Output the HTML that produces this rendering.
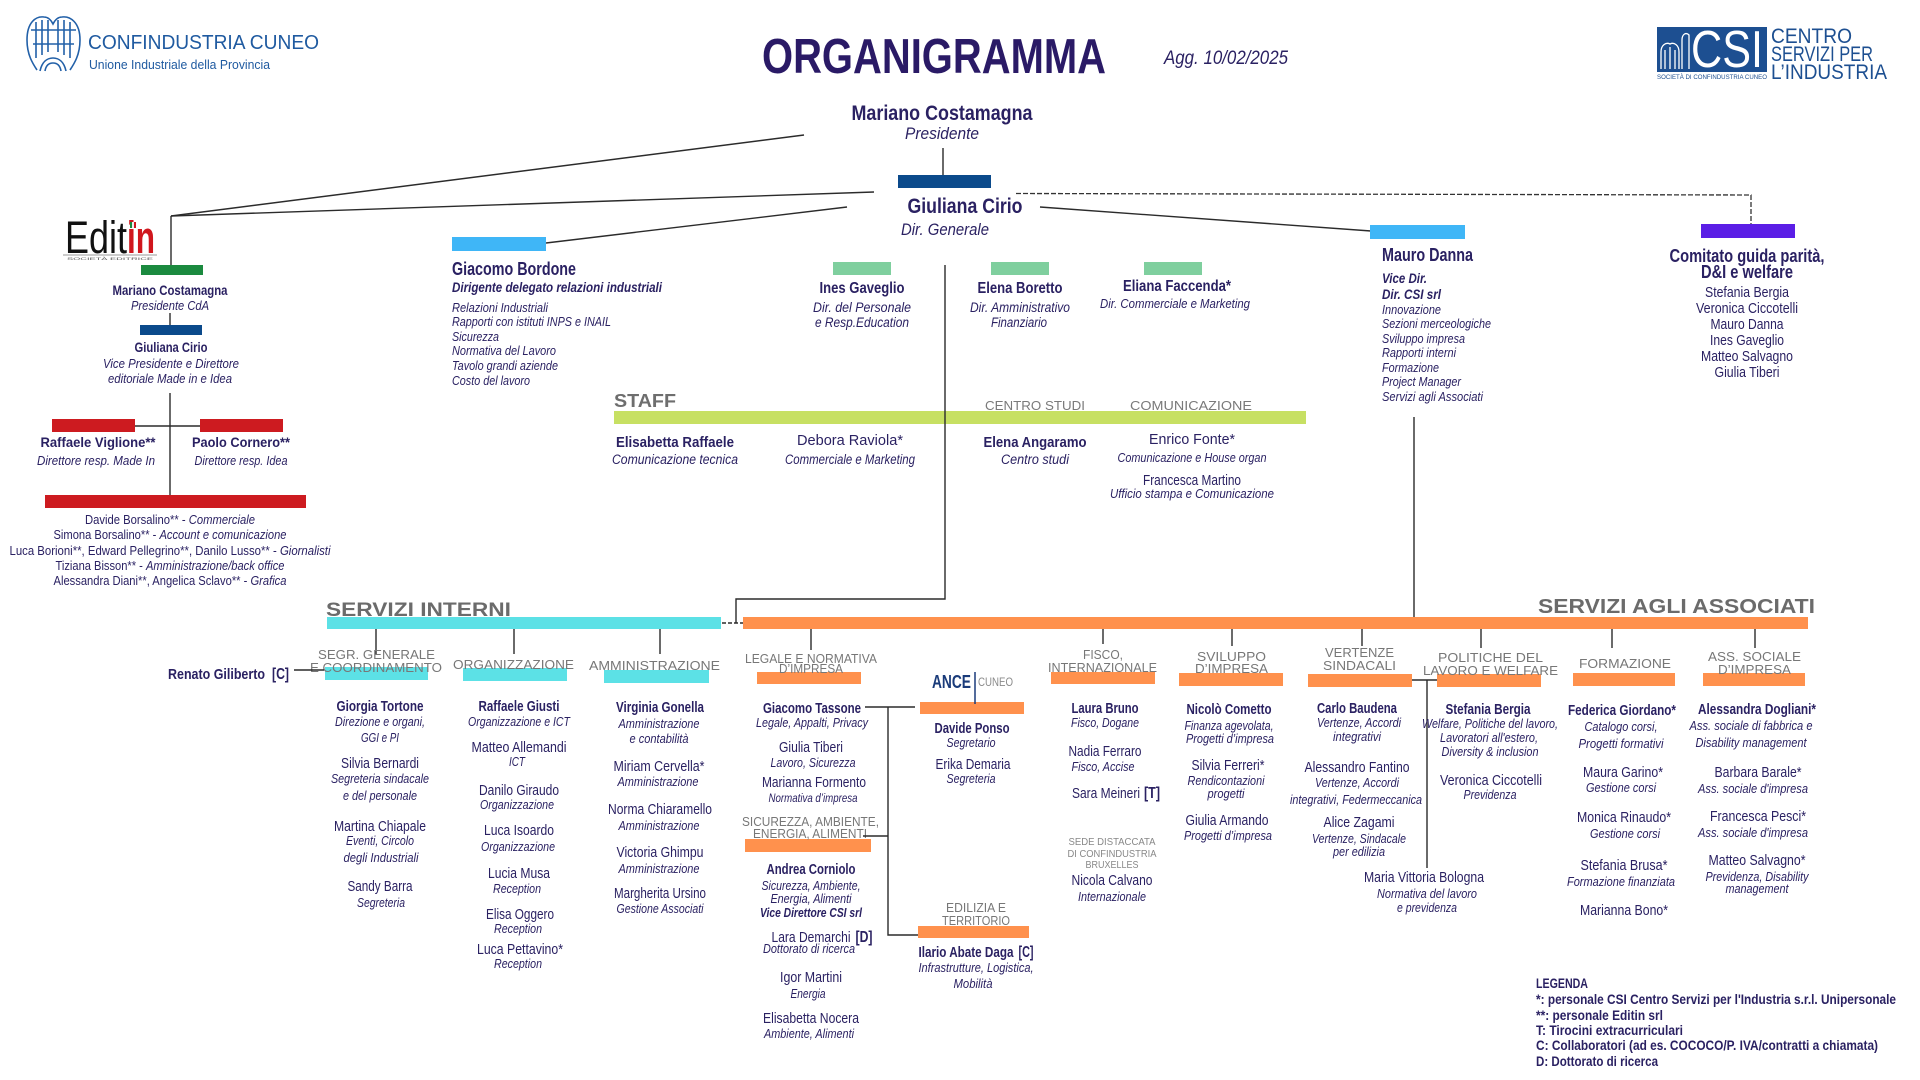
<!DOCTYPE html>
<html><head><meta charset="utf-8">
<style>
html,body{margin:0;padding:0;background:#fff;}
svg{display:block;}
text{font-family:"Liberation Sans Narrow","Liberation Sans",sans-serif;fill:#2a2162;}
.b{font-weight:bold;}
.i{font-style:italic;}
.c{text-anchor:middle;}
.i13{font-size:13px;font-style:italic;}
.ln{stroke:#2b2b2b;stroke-width:1.4;fill:none;}
</style></head>
<body>
<svg width="1920" height="1080" viewBox="0 0 1920 1080" xmlns="http://www.w3.org/2000/svg">
<rect width="1920" height="1080" fill="#fff"/>

<!-- ===== HEADER ===== -->
<g stroke="#2260a8" stroke-width="1.6" fill="none">
  <path d="M27 40 C27 22 36 16 44 17 C48 17 51 20 53 24 C55 20 58 17 62 17 C70 16 80 22 80 40 C80 55 74 64 70 70"/>
  <path d="M27 40 C27 55 33 64 37 70"/>
  <path d="M36 22 L36 58 M42 20 L42 55 M48 20 L48 52 M58 20 L58 52 M64 20 L64 55 M70 22 L70 58"/>
  <path d="M40 71 C42 62 47 58 53 58 C59 58 64 62 66 71"/>
  <path d="M45 71 C46 65 49 63 53 63 C57 63 60 65 61 71"/>
  <path d="M31 30 L76 30 M33 44 L74 44"/>
</g>
<text x="88" y="49" font-size="20" textLength="231" lengthAdjust="spacingAndGlyphs" style="fill:#1f5aa0;font-family:'Liberation Sans',sans-serif">CONFINDUSTRIA CUNEO</text>
<text x="89" y="69" font-size="13" textLength="181" lengthAdjust="spacingAndGlyphs" style="fill:#1f5aa0;font-family:'Liberation Sans',sans-serif">Unione Industriale della Provincia</text>

<text x="762" y="73" class="b" font-size="49" textLength="344" lengthAdjust="spacingAndGlyphs" style="fill:#2a1a66">ORGANIGRAMMA</text>
<text x="1164" y="64" class="i" font-size="19" textLength="124" lengthAdjust="spacingAndGlyphs">Agg. 10/02/2025</text>

<rect x="1657" y="27" width="110" height="45" fill="#1d4f91"/>
<g stroke="#fff" stroke-width="1.3" fill="none">
  <path d="M1661 69 L1661 52 C1661 45 1666 42 1670 44 C1674 42 1679 45 1679 52 L1679 69"/>
  <path d="M1665 69 L1665 50 M1670 69 L1670 47 M1675 69 L1675 50"/>
  <path d="M1682 69 L1682 40 C1682 34 1686 32 1689 35 L1689 69"/>
</g>
<text x="1691" y="67" font-size="52" textLength="72" lengthAdjust="spacingAndGlyphs" style="fill:#fff;font-family:'Liberation Sans',sans-serif">CSI</text>
<text x="1657" y="79" font-size="6" textLength="110" lengthAdjust="spacingAndGlyphs" style="fill:#1d4f91;font-family:'Liberation Sans',sans-serif">SOCIETÀ DI CONFINDUSTRIA CUNEO</text>
<text x="1771" y="43" font-size="21" textLength="81" lengthAdjust="spacingAndGlyphs" style="fill:#1d4f91;font-family:'Liberation Sans',sans-serif">CENTRO</text>
<text x="1771" y="61" font-size="21" textLength="102" lengthAdjust="spacingAndGlyphs" style="fill:#1d4f91;font-family:'Liberation Sans',sans-serif">SERVIZI PER</text>
<text x="1771" y="79" font-size="21" textLength="116" lengthAdjust="spacingAndGlyphs" style="fill:#1d4f91;font-family:'Liberation Sans',sans-serif">L’INDUSTRIA</text>

<!-- ===== TOP CONNECTORS ===== -->
<line class="ln" x1="171" y1="216" x2="804" y2="135"/>
<line class="ln" x1="171" y1="216" x2="874" y2="192"/>
<line class="ln" x1="171" y1="216" x2="171" y2="266"/>
<line class="ln" x1="546" y1="243" x2="847" y2="207"/>
<line class="ln" x1="1040" y1="207" x2="1371" y2="231"/>
<line class="ln" x1="943" y1="148" x2="943" y2="176"/>
<path d="M1016 193.5 L1751 195 L1751 224" stroke="#333" stroke-width="1.3" fill="none" stroke-dasharray="5 2"/>

<text x="942" y="120" class="b c" font-size="21" textLength="181" lengthAdjust="spacingAndGlyphs">Mariano Costamagna</text>
<text x="942" y="139" class="i c" font-size="17" textLength="74" lengthAdjust="spacingAndGlyphs">Presidente</text>
<rect x="898" y="175" width="93" height="13" fill="#0b4a8b"/>
<text x="965" y="213" class="b c" font-size="21" textLength="115" lengthAdjust="spacingAndGlyphs">Giuliana Cirio</text>
<text x="945" y="235" class="i c" font-size="17" textLength="88" lengthAdjust="spacingAndGlyphs">Dir. Generale</text>

<!-- ===== EDITIN ===== -->
<text x="65" y="253" font-size="45" textLength="62" lengthAdjust="spacingAndGlyphs" style="fill:#111">Edit</text>
<text x="127" y="253" class="b" font-size="45" textLength="28" lengthAdjust="spacingAndGlyphs" style="fill:#d0161d">in</text>
<rect x="130" y="222" width="2" height="6" fill="#1a8a3f"/><rect x="132" y="222" width="2" height="6" fill="#eee"/><rect x="134" y="222" width="2" height="6" fill="#d0161d"/>
<line x1="63" y1="255" x2="157" y2="255" stroke="#333" stroke-width="0.6"/>
<text x="67" y="260" font-size="4" textLength="86" lengthAdjust="spacingAndGlyphs" style="fill:#555">SOCIETÀ EDITRICE</text>

<rect x="141" y="265" width="62" height="10" fill="#1b8a3f"/>
<text x="170" y="295" class="b c" font-size="14" textLength="115" lengthAdjust="spacingAndGlyphs">Mariano Costamagna</text>
<text x="170" y="310" class="i c" font-size="13" textLength="78" lengthAdjust="spacingAndGlyphs">Presidente CdA</text>
<line class="ln" x1="170" y1="313" x2="170" y2="325"/>
<rect x="140" y="325" width="62" height="10" fill="#0b4a8b"/>
<text x="171" y="352" class="b c" font-size="14" textLength="73" lengthAdjust="spacingAndGlyphs">Giuliana Cirio</text>
<text x="171" y="368" class="i c" font-size="13" textLength="136" lengthAdjust="spacingAndGlyphs">Vice Presidente e Direttore</text>
<text x="170" y="383" class="i c" font-size="13" textLength="124" lengthAdjust="spacingAndGlyphs">editoriale Made in e Idea</text>
<line class="ln" x1="170" y1="393" x2="170" y2="500"/>
<rect x="52" y="419" width="83" height="13" fill="#cd1b20"/>
<rect x="200" y="419" width="83" height="13" fill="#cd1b20"/>
<line class="ln" x1="135" y1="426" x2="200" y2="426"/>
<text x="98" y="447" class="b c" font-size="14" textLength="115" lengthAdjust="spacingAndGlyphs">Raffaele Viglione**</text>
<text x="96" y="465" class="i c" font-size="13" textLength="118" lengthAdjust="spacingAndGlyphs">Direttore resp. Made In</text>
<text x="241" y="447" class="b c" font-size="14" textLength="98" lengthAdjust="spacingAndGlyphs">Paolo Cornero**</text>
<text x="241" y="465" class="i c" font-size="13" textLength="93" lengthAdjust="spacingAndGlyphs">Direttore resp. Idea</text>
<rect x="45" y="495" width="261" height="13" fill="#cd1b20"/>
<text x="170" y="524" class="c" font-size="13" textLength="170" lengthAdjust="spacingAndGlyphs">Davide Borsalino**  - <tspan class="i">Commerciale</tspan></text>
<text x="170" y="539" class="c" font-size="13" textLength="233" lengthAdjust="spacingAndGlyphs">Simona Borsalino** - <tspan class="i">Account e comunicazione</tspan></text>
<text x="170" y="555" class="c" font-size="13" textLength="321" lengthAdjust="spacingAndGlyphs">Luca Borioni**,  Edward Pellegrino**, Danilo Lusso**  - <tspan class="i">Giornalisti</tspan></text>
<text x="170" y="570" class="c" font-size="13" textLength="229" lengthAdjust="spacingAndGlyphs">Tiziana Bisson** - <tspan class="i">Amministrazione/back office</tspan></text>
<text x="170" y="585" class="c" font-size="13" textLength="233" lengthAdjust="spacingAndGlyphs">Alessandra Diani**, Angelica Sclavo** - <tspan class="i">Grafica</tspan></text>

<!-- ===== BORDONE ===== -->
<rect x="452" y="237" width="94" height="14" fill="#3fb6f7"/>
<text x="452" y="275" class="b" font-size="18" textLength="124" lengthAdjust="spacingAndGlyphs">Giacomo Bordone</text>
<text x="452" y="292" class="b i" font-size="13.5" textLength="210" lengthAdjust="spacingAndGlyphs">Dirigente delegato relazioni industriali</text>
<g class="i" font-size="13">
<text x="452" y="312" textLength="96" lengthAdjust="spacingAndGlyphs">Relazioni Industriali</text>
<text x="452" y="326" textLength="159" lengthAdjust="spacingAndGlyphs">Rapporti con istituti INPS e INAIL</text>
<text x="452" y="341" textLength="47" lengthAdjust="spacingAndGlyphs">Sicurezza</text>
<text x="452" y="355" textLength="104" lengthAdjust="spacingAndGlyphs">Normativa del Lavoro</text>
<text x="452" y="370" textLength="106" lengthAdjust="spacingAndGlyphs">Tavolo grandi aziende</text>
<text x="452" y="385" textLength="78" lengthAdjust="spacingAndGlyphs">Costo del lavoro</text>
</g>

<!-- ===== DIRECTORS ===== -->
<rect x="833" y="262" width="58" height="13" fill="#7fcf9e"/>
<rect x="991" y="262" width="58" height="13" fill="#7fcf9e"/>
<rect x="1144" y="262" width="58" height="13" fill="#7fcf9e"/>
<text x="862" y="293" class="b c" font-size="16" textLength="85" lengthAdjust="spacingAndGlyphs">Ines Gaveglio</text>
<text x="862" y="312" class="i c" font-size="13.5" textLength="98" lengthAdjust="spacingAndGlyphs">Dir. del Personale</text>
<text x="862" y="327" class="i c" font-size="13.5" textLength="94" lengthAdjust="spacingAndGlyphs">e Resp.Education</text>
<text x="1020" y="293" class="b c" font-size="16" textLength="85" lengthAdjust="spacingAndGlyphs">Elena Boretto</text>
<text x="1020" y="312" class="i c" font-size="13.5" textLength="100" lengthAdjust="spacingAndGlyphs">Dir. Amministrativo</text>
<text x="1019" y="327" class="i c" font-size="13.5" textLength="56" lengthAdjust="spacingAndGlyphs">Finanziario</text>
<text x="1177" y="291" class="b c" font-size="16" textLength="108" lengthAdjust="spacingAndGlyphs">Eliana Faccenda*</text>
<text x="1175" y="308" class="i c" font-size="13" textLength="150" lengthAdjust="spacingAndGlyphs">Dir. Commerciale e Marketing</text>

<!-- ===== MAURO DANNA ===== -->
<rect x="1370" y="225" width="95" height="14" fill="#3fb6f7"/>
<text x="1382" y="261" class="b" font-size="18" textLength="91" lengthAdjust="spacingAndGlyphs">Mauro Danna</text>
<text x="1382" y="283" class="b i" font-size="14" textLength="45" lengthAdjust="spacingAndGlyphs">Vice Dir.</text>
<text x="1382" y="299" class="b i" font-size="14" textLength="59" lengthAdjust="spacingAndGlyphs">Dir. CSI srl</text>
<g class="i" font-size="13">
<text x="1382" y="314" textLength="59" lengthAdjust="spacingAndGlyphs">Innovazione</text>
<text x="1382" y="328" textLength="109" lengthAdjust="spacingAndGlyphs">Sezioni merceologiche</text>
<text x="1382" y="343" textLength="83" lengthAdjust="spacingAndGlyphs">Sviluppo impresa</text>
<text x="1382" y="357" textLength="74" lengthAdjust="spacingAndGlyphs">Rapporti interni</text>
<text x="1382" y="372" textLength="57" lengthAdjust="spacingAndGlyphs">Formazione</text>
<text x="1382" y="386" textLength="79" lengthAdjust="spacingAndGlyphs">Project Manager</text>
<text x="1382" y="401" textLength="101" lengthAdjust="spacingAndGlyphs">Servizi agli Associati</text>
</g>
<line class="ln" x1="1414" y1="417" x2="1414" y2="618"/>

<!-- ===== COMITATO ===== -->
<rect x="1701" y="224" width="94" height="14" fill="#5b1ee6"/>
<text x="1747" y="262" class="b c" font-size="18" textLength="155" lengthAdjust="spacingAndGlyphs">Comitato guida parità,</text>
<text x="1747" y="278" class="b c" font-size="18" textLength="92" lengthAdjust="spacingAndGlyphs">D&amp;I e welfare</text>
<g class="c" font-size="14.5">
<text x="1747" y="297" textLength="84" lengthAdjust="spacingAndGlyphs">Stefania Bergia</text>
<text x="1747" y="313" textLength="102" lengthAdjust="spacingAndGlyphs">Veronica Ciccotelli</text>
<text x="1747" y="329" textLength="73" lengthAdjust="spacingAndGlyphs">Mauro Danna</text>
<text x="1747" y="345" textLength="74" lengthAdjust="spacingAndGlyphs">Ines Gaveglio</text>
<text x="1747" y="361" textLength="92" lengthAdjust="spacingAndGlyphs">Matteo Salvagno</text>
<text x="1747" y="377" textLength="65" lengthAdjust="spacingAndGlyphs">Giulia Tiberi</text>
</g>

<!-- ===== STAFF ===== -->
<text x="614" y="407" class="b" font-size="18" textLength="62" lengthAdjust="spacingAndGlyphs" style="fill:#6e6e6e">STAFF</text>
<rect x="614" y="411" width="692" height="13" fill="#c7e063"/>
<text x="985" y="410" font-size="12.5" textLength="100" lengthAdjust="spacingAndGlyphs" style="fill:#7a7a7a">CENTRO STUDI</text>
<text x="1130" y="410" font-size="12.5" textLength="122" lengthAdjust="spacingAndGlyphs" style="fill:#7a7a7a">COMUNICAZIONE</text>
<text x="675" y="447" class="b c" font-size="15" textLength="118" lengthAdjust="spacingAndGlyphs">Elisabetta Raffaele</text>
<text x="675" y="464" class="i c" font-size="13.5" textLength="126" lengthAdjust="spacingAndGlyphs">Comunicazione tecnica</text>
<text x="850" y="445" class="c" font-size="15" textLength="106" lengthAdjust="spacingAndGlyphs">Debora Raviola*</text>
<text x="850" y="464" class="i c" font-size="13.5" textLength="130" lengthAdjust="spacingAndGlyphs">Commerciale e Marketing</text>
<text x="1035" y="447" class="b c" font-size="15" textLength="103" lengthAdjust="spacingAndGlyphs">Elena Angaramo</text>
<text x="1035" y="464" class="i c" font-size="13.5" textLength="68" lengthAdjust="spacingAndGlyphs">Centro studi</text>
<text x="1192" y="444" class="c" font-size="14.5" textLength="86" lengthAdjust="spacingAndGlyphs">Enrico Fonte*</text>
<text x="1192" y="462" class="i c" font-size="12.5" textLength="149" lengthAdjust="spacingAndGlyphs">Comunicazione e House organ</text>
<text x="1192" y="485" class="c" font-size="14.5" textLength="98" lengthAdjust="spacingAndGlyphs">Francesca Martino</text>
<text x="1192" y="498" class="i c" font-size="12.5" textLength="164" lengthAdjust="spacingAndGlyphs">Ufficio stampa e Comunicazione</text>

<polyline class="ln" points="945,265 945,599 736,599 736,623"/>
<line class="ln" x1="722" y1="623" x2="744" y2="623" stroke-dasharray="4 2"/>

<!-- ===== SERVIZI INTERNI ===== -->
<text x="326" y="616" class="b" font-size="19" textLength="185" lengthAdjust="spacingAndGlyphs" style="fill:#6b6b6b">SERVIZI INTERNI</text>
<rect x="327" y="617" width="394" height="12" fill="#5ce1e6"/>
<line class="ln" x1="376" y1="629" x2="376" y2="654"/>
<line class="ln" x1="514" y1="629" x2="514" y2="654"/>
<line class="ln" x1="660" y1="629" x2="660" y2="654"/>
<rect x="325" y="667" width="103" height="13" fill="#5ce1e6"/>
<rect x="463" y="668" width="104" height="13" fill="#5ce1e6"/>
<rect x="604" y="670" width="105" height="13" fill="#5ce1e6"/>
<g font-size="13">
<text x="318" y="659" textLength="117" lengthAdjust="spacingAndGlyphs" style="fill:#777">SEGR. GENERALE</text>
<text x="310" y="672" textLength="132" lengthAdjust="spacingAndGlyphs" style="fill:#777">E COORDINAMENTO</text>
<text x="453" y="669" textLength="121" lengthAdjust="spacingAndGlyphs" style="fill:#777">ORGANIZZAZIONE</text>
<text x="589" y="670" textLength="131" lengthAdjust="spacingAndGlyphs" style="fill:#777">AMMINISTRAZIONE</text>
</g>
<text x="168" y="679" class="b" font-size="15" textLength="97" lengthAdjust="spacingAndGlyphs">Renato Giliberto</text>
<text x="272" y="679" class="b" font-size="16" textLength="17" lengthAdjust="spacingAndGlyphs">[C]</text>
<line class="ln" x1="294" y1="670" x2="324" y2="670"/>

<g class="c">
<text x="380" y="711" class="b" font-size="14.5" textLength="87" lengthAdjust="spacingAndGlyphs">Giorgia Tortone</text>
<text x="380" y="726" class="i13" textLength="90" lengthAdjust="spacingAndGlyphs">Direzione e organi,</text>
<text x="380" y="742" class="i13" textLength="38" lengthAdjust="spacingAndGlyphs">GGI e PI</text>
<text x="380" y="768" font-size="14.5" textLength="78" lengthAdjust="spacingAndGlyphs">Silvia Bernardi</text>
<text x="380" y="783" class="i13" textLength="98" lengthAdjust="spacingAndGlyphs">Segreteria sindacale</text>
<text x="380" y="800" class="i13" textLength="74" lengthAdjust="spacingAndGlyphs">e del personale</text>
<text x="380" y="831" font-size="14.5" textLength="92" lengthAdjust="spacingAndGlyphs">Martina Chiapale</text>
<text x="380" y="845" class="i13" textLength="68" lengthAdjust="spacingAndGlyphs">Eventi, Circolo</text>
<text x="381" y="862" class="i13" textLength="75" lengthAdjust="spacingAndGlyphs">degli Industriali</text>
<text x="380" y="891" font-size="14.5" textLength="65" lengthAdjust="spacingAndGlyphs">Sandy Barra</text>
<text x="381" y="907" class="i13" textLength="48" lengthAdjust="spacingAndGlyphs">Segreteria</text>

<text x="519" y="711" class="b" font-size="14.5" textLength="81" lengthAdjust="spacingAndGlyphs">Raffaele Giusti</text>
<text x="519" y="726" class="i13" textLength="102" lengthAdjust="spacingAndGlyphs">Organizzazione e ICT</text>
<text x="519" y="752" font-size="14.5" textLength="95" lengthAdjust="spacingAndGlyphs">Matteo Allemandi</text>
<text x="517" y="766" class="i13" textLength="16" lengthAdjust="spacingAndGlyphs">ICT</text>
<text x="519" y="795" font-size="14.5" textLength="80" lengthAdjust="spacingAndGlyphs">Danilo Giraudo</text>
<text x="517" y="809" class="i13" textLength="74" lengthAdjust="spacingAndGlyphs">Organizzazione</text>
<text x="519" y="835" font-size="14.5" textLength="70" lengthAdjust="spacingAndGlyphs">Luca Isoardo</text>
<text x="518" y="851" class="i13" textLength="74" lengthAdjust="spacingAndGlyphs">Organizzazione</text>
<text x="519" y="878" font-size="14.5" textLength="62" lengthAdjust="spacingAndGlyphs">Lucia Musa</text>
<text x="517" y="893" class="i13" textLength="48" lengthAdjust="spacingAndGlyphs">Reception</text>
<text x="520" y="919" font-size="14.5" textLength="68" lengthAdjust="spacingAndGlyphs">Elisa Oggero</text>
<text x="518" y="933" class="i13" textLength="48" lengthAdjust="spacingAndGlyphs">Reception</text>
<text x="520" y="954" font-size="14.5" textLength="86" lengthAdjust="spacingAndGlyphs">Luca Pettavino*</text>
<text x="518" y="968" class="i13" textLength="48" lengthAdjust="spacingAndGlyphs">Reception</text>

<text x="660" y="712" class="b" font-size="14.5" textLength="88" lengthAdjust="spacingAndGlyphs">Virginia Gonella</text>
<text x="659" y="728" class="i13" textLength="81" lengthAdjust="spacingAndGlyphs">Amministrazione</text>
<text x="659" y="743" class="i13" textLength="59" lengthAdjust="spacingAndGlyphs">e contabilità</text>
<text x="659" y="771" font-size="14.5" textLength="91" lengthAdjust="spacingAndGlyphs">Miriam Cervella*</text>
<text x="658" y="786" class="i13" textLength="81" lengthAdjust="spacingAndGlyphs">Amministrazione</text>
<text x="660" y="814" font-size="14.5" textLength="104" lengthAdjust="spacingAndGlyphs">Norma Chiaramello</text>
<text x="659" y="830" class="i13" textLength="81" lengthAdjust="spacingAndGlyphs">Amministrazione</text>
<text x="660" y="857" font-size="14.5" textLength="87" lengthAdjust="spacingAndGlyphs">Victoria Ghimpu</text>
<text x="659" y="873" class="i13" textLength="81" lengthAdjust="spacingAndGlyphs">Amministrazione</text>
<text x="660" y="898" font-size="14.5" textLength="92" lengthAdjust="spacingAndGlyphs">Margherita Ursino</text>
<text x="660" y="913" class="i13" textLength="87" lengthAdjust="spacingAndGlyphs">Gestione Associati</text>
</g>

<!-- ===== SERVIZI AGLI ASSOCIATI ===== -->
<text x="1538" y="613" class="b" font-size="20" textLength="277" lengthAdjust="spacingAndGlyphs" style="fill:#6b6b6b">SERVIZI AGLI ASSOCIATI</text>
<rect x="743" y="617" width="1065" height="12" fill="#ff914d"/>
<g class="ln">
<line x1="811" y1="629" x2="811" y2="650"/>
<line x1="1103" y1="629" x2="1103" y2="644"/>
<line x1="1232" y1="629" x2="1232" y2="646"/>
<line x1="1362" y1="629" x2="1362" y2="646"/>
<line x1="1481" y1="629" x2="1481" y2="648"/>
<line x1="1612" y1="629" x2="1612" y2="648"/>
<line x1="1755" y1="629" x2="1755" y2="648"/>
</g>
<g fill="#ff914d">
<rect x="757" y="672" width="104" height="12"/>
<rect x="1051" y="672" width="104" height="12"/>
<rect x="1179" y="673" width="104" height="13"/>
<rect x="1308" y="674" width="104" height="13"/>
<rect x="1437" y="674" width="104" height="13"/>
<rect x="1573" y="673" width="102" height="13"/>
<rect x="1703" y="673" width="102" height="13"/>
<rect x="920" y="702" width="104" height="12"/>
<rect x="745" y="839" width="126" height="13"/>
<rect x="918" y="926" width="111" height="12"/>
</g>
<g font-size="13">
<text x="745" y="663" textLength="132" lengthAdjust="spacingAndGlyphs" style="fill:#777">LEGALE E NORMATIVA</text>
<text x="779" y="673" textLength="64" lengthAdjust="spacingAndGlyphs" style="fill:#777">D’IMPRESA</text>
<text x="1083" y="659" textLength="40" lengthAdjust="spacingAndGlyphs" style="fill:#777">FISCO,</text>
<text x="1048" y="672" textLength="109" lengthAdjust="spacingAndGlyphs" style="fill:#777">INTERNAZIONALE</text>
<text x="1197" y="661" textLength="69" lengthAdjust="spacingAndGlyphs" style="fill:#777">SVILUPPO</text>
<text x="1195" y="673" textLength="73" lengthAdjust="spacingAndGlyphs" style="fill:#777">D’IMPRESA</text>
<text x="1325" y="657" textLength="69" lengthAdjust="spacingAndGlyphs" style="fill:#777">VERTENZE</text>
<text x="1323" y="670" textLength="73" lengthAdjust="spacingAndGlyphs" style="fill:#777">SINDACALI</text>
<text x="1438" y="662" textLength="105" lengthAdjust="spacingAndGlyphs" style="fill:#777">POLITICHE DEL</text>
<text x="1423" y="675" textLength="135" lengthAdjust="spacingAndGlyphs" style="fill:#777">LAVORO E WELFARE</text>
<text x="1579" y="668" textLength="92" lengthAdjust="spacingAndGlyphs" style="fill:#777">FORMAZIONE</text>
<text x="1708" y="661" textLength="93" lengthAdjust="spacingAndGlyphs" style="fill:#777">ASS. SOCIALE</text>
<text x="1718" y="674" textLength="73" lengthAdjust="spacingAndGlyphs" style="fill:#777">D’IMPRESA</text>
<text x="742" y="826" textLength="137" lengthAdjust="spacingAndGlyphs" style="fill:#777">SICUREZZA, AMBIENTE,</text>
<text x="753" y="838" textLength="114" lengthAdjust="spacingAndGlyphs" style="fill:#777">ENERGIA, ALIMENTI</text>
<text x="946" y="912" textLength="60" lengthAdjust="spacingAndGlyphs" style="fill:#777">EDILIZIA E</text>
<text x="942" y="925" textLength="68" lengthAdjust="spacingAndGlyphs" style="fill:#777">TERRITORIO</text>
</g>
<g font-size="10.5">
<text x="1112" y="845" class="c" textLength="87" lengthAdjust="spacingAndGlyphs" style="fill:#888">SEDE DISTACCATA</text>
<text x="1112" y="857" class="c" textLength="89" lengthAdjust="spacingAndGlyphs" style="fill:#888">DI CONFINDUSTRIA</text>
<text x="1112" y="868" class="c" textLength="53" lengthAdjust="spacingAndGlyphs" style="fill:#888">BRUXELLES</text>
</g>

<text x="932" y="688" class="b" font-size="18" textLength="39" lengthAdjust="spacingAndGlyphs" style="fill:#1a3b7a">ANCE</text>
<line x1="975" y1="672" x2="975" y2="704" stroke="#1a3b7a" stroke-width="1.5"/>
<text x="978" y="686" font-size="11.5" textLength="35" lengthAdjust="spacingAndGlyphs" style="fill:#8a8a8a">CUNEO</text>

<line class="ln" x1="865" y1="707" x2="915" y2="707"/>
<polyline class="ln" points="888,707 888,935 918,935"/>
<line class="ln" x1="863" y1="836" x2="888" y2="836"/>
<line class="ln" x1="1412" y1="680" x2="1437" y2="680"/>
<line class="ln" x1="1427" y1="680" x2="1427" y2="868"/>

<g class="c">
<!-- Legale -->
<text x="812" y="713" class="b" font-size="14.5" textLength="98" lengthAdjust="spacingAndGlyphs">Giacomo Tassone</text>
<text x="812" y="727" class="i13" textLength="112" lengthAdjust="spacingAndGlyphs">Legale, Appalti, Privacy</text>
<text x="811" y="752" font-size="14.5" textLength="64" lengthAdjust="spacingAndGlyphs">Giulia Tiberi</text>
<text x="813" y="767" class="i13" textLength="85" lengthAdjust="spacingAndGlyphs">Lavoro, Sicurezza</text>
<text x="814" y="787" font-size="14.5" textLength="104" lengthAdjust="spacingAndGlyphs">Marianna Formento</text>
<text x="813" y="802" class="i" font-size="12" textLength="89" lengthAdjust="spacingAndGlyphs">Normativa d’impresa</text>
<text x="811" y="874" class="b" font-size="14.5" textLength="89" lengthAdjust="spacingAndGlyphs">Andrea Corniolo</text>
<text x="811" y="890" class="i13" textLength="99" lengthAdjust="spacingAndGlyphs">Sicurezza, Ambiente,</text>
<text x="811" y="903" class="i13" textLength="81" lengthAdjust="spacingAndGlyphs">Energia, Alimenti</text>
<text x="811" y="917" class="b i" font-size="13" textLength="102" lengthAdjust="spacingAndGlyphs">Vice Direttore CSI srl</text>
<text x="811" y="942" font-size="14.5" textLength="79" lengthAdjust="spacingAndGlyphs">Lara Demarchi</text>
<text x="864" y="942" class="b" font-size="16" textLength="17" lengthAdjust="spacingAndGlyphs">[D]</text>
<text x="809" y="953" class="i13" textLength="92" lengthAdjust="spacingAndGlyphs">Dottorato di ricerca</text>
<text x="811" y="982" font-size="14.5" textLength="62" lengthAdjust="spacingAndGlyphs">Igor Martini</text>
<text x="808" y="998" class="i13" textLength="35" lengthAdjust="spacingAndGlyphs">Energia</text>
<text x="811" y="1023" font-size="14.5" textLength="96" lengthAdjust="spacingAndGlyphs">Elisabetta Nocera</text>
<text x="809" y="1038" class="i13" textLength="90" lengthAdjust="spacingAndGlyphs">Ambiente, Alimenti</text>

<!-- ANCE -->
<text x="972" y="733" class="b" font-size="14.5" textLength="75" lengthAdjust="spacingAndGlyphs">Davide Ponso</text>
<text x="971" y="747" class="i13" textLength="49" lengthAdjust="spacingAndGlyphs">Segretario</text>
<text x="973" y="769" font-size="14.5" textLength="75" lengthAdjust="spacingAndGlyphs">Erika Demaria</text>
<text x="971" y="783" class="i13" textLength="49" lengthAdjust="spacingAndGlyphs">Segreteria</text>
<text x="966" y="957" class="b" font-size="14.5" textLength="95" lengthAdjust="spacingAndGlyphs">Ilario Abate Daga</text>
<text x="1026" y="957" class="b" font-size="16" textLength="15" lengthAdjust="spacingAndGlyphs">[C]</text>
<text x="976" y="972" class="i13" textLength="115" lengthAdjust="spacingAndGlyphs">Infrastrutture, Logistica,</text>
<text x="973" y="988" class="i13" textLength="39" lengthAdjust="spacingAndGlyphs">Mobilità</text>

<!-- Fisco -->
<text x="1105" y="713" class="b" font-size="14.5" textLength="67" lengthAdjust="spacingAndGlyphs">Laura Bruno</text>
<text x="1105" y="727" class="i13" textLength="68" lengthAdjust="spacingAndGlyphs">Fisco, Dogane</text>
<text x="1105" y="756" font-size="14.5" textLength="73" lengthAdjust="spacingAndGlyphs">Nadia Ferraro</text>
<text x="1103" y="771" class="i13" textLength="63" lengthAdjust="spacingAndGlyphs">Fisco, Accise</text>
<text x="1106" y="798" font-size="14.5" textLength="68" lengthAdjust="spacingAndGlyphs">Sara Meineri</text>
<text x="1152" y="798" class="b" font-size="16" textLength="16" lengthAdjust="spacingAndGlyphs">[T]</text>
<text x="1112" y="885" font-size="14.5" textLength="81" lengthAdjust="spacingAndGlyphs">Nicola Calvano</text>
<text x="1112" y="901" class="i13" textLength="68" lengthAdjust="spacingAndGlyphs">Internazionale</text>

<!-- Sviluppo -->
<text x="1229" y="714" class="b" font-size="14.5" textLength="85" lengthAdjust="spacingAndGlyphs">Nicolò Cometto</text>
<text x="1229" y="730" class="i13" textLength="89" lengthAdjust="spacingAndGlyphs">Finanza agevolata,</text>
<text x="1230" y="743" class="i13" textLength="88" lengthAdjust="spacingAndGlyphs">Progetti d’impresa</text>
<text x="1228" y="770" font-size="14.5" textLength="73" lengthAdjust="spacingAndGlyphs">Silvia Ferreri*</text>
<text x="1226" y="785" class="i13" textLength="77" lengthAdjust="spacingAndGlyphs">Rendicontazioni</text>
<text x="1226" y="798" class="i13" textLength="37" lengthAdjust="spacingAndGlyphs">progetti</text>
<text x="1227" y="825" font-size="14.5" textLength="83" lengthAdjust="spacingAndGlyphs">Giulia Armando</text>
<text x="1228" y="840" class="i13" textLength="88" lengthAdjust="spacingAndGlyphs">Progetti d’impresa</text>

<!-- Vertenze -->
<text x="1357" y="713" class="b" font-size="14.5" textLength="80" lengthAdjust="spacingAndGlyphs">Carlo Baudena</text>
<text x="1359" y="727" class="i13" textLength="84" lengthAdjust="spacingAndGlyphs">Vertenze, Accordi</text>
<text x="1357" y="741" class="i13" textLength="48" lengthAdjust="spacingAndGlyphs">integrativi</text>
<text x="1357" y="772" font-size="14.5" textLength="105" lengthAdjust="spacingAndGlyphs">Alessandro Fantino</text>
<text x="1357" y="787" class="i13" textLength="84" lengthAdjust="spacingAndGlyphs">Vertenze, Accordi</text>
<text x="1356" y="804" class="i13" textLength="132" lengthAdjust="spacingAndGlyphs">integrativi, Federmeccanica</text>
<text x="1359" y="827" font-size="14.5" textLength="71" lengthAdjust="spacingAndGlyphs">Alice Zagami</text>
<text x="1359" y="843" class="i13" textLength="94" lengthAdjust="spacingAndGlyphs">Vertenze, Sindacale</text>
<text x="1359" y="856" class="i13" textLength="52" lengthAdjust="spacingAndGlyphs">per edilizia</text>
<text x="1424" y="882" font-size="14.5" textLength="120" lengthAdjust="spacingAndGlyphs">Maria Vittoria Bologna</text>
<text x="1427" y="898" class="i13" textLength="100" lengthAdjust="spacingAndGlyphs">Normativa del lavoro</text>
<text x="1427" y="912" class="i13" textLength="60" lengthAdjust="spacingAndGlyphs">e previdenza</text>

<!-- Politiche -->
<text x="1488" y="714" class="b" font-size="14.5" textLength="85" lengthAdjust="spacingAndGlyphs">Stefania Bergia</text>
<text x="1490" y="728" class="i13" textLength="136" lengthAdjust="spacingAndGlyphs">Welfare, Politiche del lavoro,</text>
<text x="1489" y="742" class="i13" textLength="98" lengthAdjust="spacingAndGlyphs">Lavoratori all'estero,</text>
<text x="1490" y="756" class="i13" textLength="97" lengthAdjust="spacingAndGlyphs">Diversity &amp; inclusion</text>
<text x="1491" y="785" font-size="14.5" textLength="102" lengthAdjust="spacingAndGlyphs">Veronica Ciccotelli</text>
<text x="1490" y="799" class="i13" textLength="53" lengthAdjust="spacingAndGlyphs">Previdenza</text>

<!-- Formazione -->
<text x="1622" y="715" class="b" font-size="14.5" textLength="108" lengthAdjust="spacingAndGlyphs">Federica Giordano*</text>
<text x="1621" y="731" class="i13" textLength="73" lengthAdjust="spacingAndGlyphs">Catalogo corsi,</text>
<text x="1621" y="748" class="i13" textLength="85" lengthAdjust="spacingAndGlyphs">Progetti formativi</text>
<text x="1623" y="777" font-size="14.5" textLength="80" lengthAdjust="spacingAndGlyphs">Maura Garino*</text>
<text x="1621" y="792" class="i13" textLength="70" lengthAdjust="spacingAndGlyphs">Gestione corsi</text>
<text x="1624" y="822" font-size="14.5" textLength="94" lengthAdjust="spacingAndGlyphs">Monica Rinaudo*</text>
<text x="1625" y="838" class="i13" textLength="70" lengthAdjust="spacingAndGlyphs">Gestione corsi</text>
<text x="1624" y="870" font-size="14.5" textLength="87" lengthAdjust="spacingAndGlyphs">Stefania Brusa*</text>
<text x="1621" y="886" class="i13" textLength="108" lengthAdjust="spacingAndGlyphs">Formazione finanziata</text>
<text x="1624" y="915" font-size="14.5" textLength="88" lengthAdjust="spacingAndGlyphs">Marianna Bono*</text>

<!-- Ass. sociale -->
<text x="1757" y="714" class="b" font-size="14.5" textLength="118" lengthAdjust="spacingAndGlyphs">Alessandra Dogliani*</text>
<text x="1751" y="730" class="i13" textLength="123" lengthAdjust="spacingAndGlyphs">Ass. sociale di fabbrica e</text>
<text x="1751" y="747" class="i13" textLength="111" lengthAdjust="spacingAndGlyphs">Disability management</text>
<text x="1758" y="777" font-size="14.5" textLength="87" lengthAdjust="spacingAndGlyphs">Barbara Barale*</text>
<text x="1753" y="793" class="i13" textLength="110" lengthAdjust="spacingAndGlyphs">Ass. sociale d'impresa</text>
<text x="1758" y="821" font-size="14.5" textLength="96" lengthAdjust="spacingAndGlyphs">Francesca Pesci*</text>
<text x="1753" y="837" class="i13" textLength="110" lengthAdjust="spacingAndGlyphs">Ass. sociale d'impresa</text>
<text x="1757" y="865" font-size="14.5" textLength="97" lengthAdjust="spacingAndGlyphs">Matteo Salvagno*</text>
<text x="1757" y="881" class="i13" textLength="103" lengthAdjust="spacingAndGlyphs">Previdenza, Disability</text>
<text x="1757" y="893" class="i13" textLength="63" lengthAdjust="spacingAndGlyphs">management</text>
</g>

<!-- ===== LEGEND ===== -->
<g class="b" font-size="13.5">
<text x="1536" y="988" textLength="52" lengthAdjust="spacingAndGlyphs">LEGENDA</text>
<text x="1536" y="1004" textLength="360" lengthAdjust="spacingAndGlyphs">*: personale CSI Centro Servizi per l'Industria s.r.l. Unipersonale</text>
<text x="1536" y="1020" textLength="127" lengthAdjust="spacingAndGlyphs">**: personale Editin srl</text>
<text x="1536" y="1035" textLength="147" lengthAdjust="spacingAndGlyphs">T: Tirocini extracurriculari</text>
<text x="1536" y="1050" textLength="342" lengthAdjust="spacingAndGlyphs">C: Collaboratori (ad es. COCOCO/P. IVA/contratti a chiamata)</text>
<text x="1536" y="1066" textLength="122" lengthAdjust="spacingAndGlyphs">D: Dottorato di ricerca</text>
</g>
</svg>
</body></html>
